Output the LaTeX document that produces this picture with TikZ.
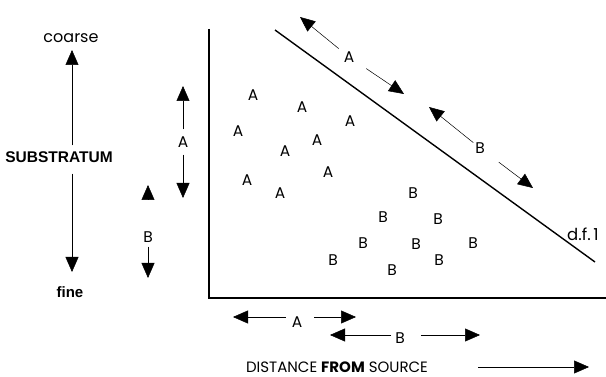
\documentclass[tikz,border=0pt]{standalone}
\usepackage{fontspec}
\setmainfont{Liberation Sans}
\newfontfamily\geofont{Poppins}
\usetikzlibrary{arrows.meta,positioning,calc}

\begin{document}
\begin{tikzpicture}[x=1pt,y=-1pt,
  lett/.style={font=\geofont\fontsize{15.5}{15.5}\selectfont,inner sep=1pt},
  boldlbl/.style={font=\bfseries\fontsize{15}{15}\selectfont,inner sep=1pt},
  arr/.style={-{Triangle[length=15pt,width=13pt]},line width=0.5pt,shorten <=4pt},
  axis/.style={line width=2pt}
]
  \useasboundingbox (0,0) rectangle (606,377);

  % Substratum scale (left)
  \node[font=\geofont\fontsize{16}{16}\selectfont,inner sep=1pt] (coarse) at (71,38) {coarse};
  \node[boldlbl,font=\bfseries\fontsize{15.5}{15.5}\selectfont] (sub) at (59,157) {SUBSTRATUM};
  \node[boldlbl] (fine) at (70,292) {fine};
  \coordinate (subup) at (72,50);
  \coordinate (subdn) at (72,272);
  \draw[arr,shorten <=5pt] (sub.north -| subup) -- (subup);
  \draw[arr,shorten <=10pt] (sub.south -| subdn) -- (subdn);

  % Vertical ranges A and B
  \node[lett] (vA) at (183,142) {A};
  \coordinate (vAup) at (183,86);
  \coordinate (vAdn) at (183,198);
  \draw[arr,shorten <=6pt] (vA) -- (vAup);
  \draw[arr,shorten <=6pt] (vA) -- (vAdn);
  \node[lett] (vB) at (148,237) {B};
  \coordinate (vBup) at (148,185);
  \coordinate (vBdn) at (148,278);
  \draw[arr,shorten <=35pt] (vB) -- (vBup);
  \draw[arr,shorten <=3pt] (vB) -- (vBdn);

  % Axes
  \coordinate (orig) at (209,298);
  \draw[axis] (209,29) -- (orig) -- (606,298);

  % d.f.1 boundary
  \coordinate (dfa) at (275,30);
  \coordinate (dfb) at (595,262);
  \draw[line width=1.4pt] (dfa) -- (dfb);
  \node[lett,font=\geofont\fontsize{16.5}{16.5}\selectfont] (df) at (583,234) {d.f.\,1};

  % Ranges along the boundary
  \node[lett] (dA) at (349,57) {A};
  \coordinate (dAup) at (300,17);
  \coordinate (dAdn) at (404,94);
  \draw[arr,shorten <=5pt] (dA) -- (dAup);
  \draw[arr,shorten <=13pt] (dA) -- (dAdn);
  \node[lett] (dB) at (480,148) {B};
  \coordinate (dBup) at (429,107);
  \coordinate (dBdn) at (533,188);
  \draw[arr,shorten <=1pt] (dB) -- (dBup);
  \draw[arr,shorten <=16pt] (dB) -- (dBdn);

  % Scatter of A
  \foreach \px/\py [count=\i] in {253/95,302/107,350/121,238/131,317/140,285/151,328/172,247/180,280/193}
    \node[lett] (a\i) at (\px,\py) {A};

  % Scatter of B
  \foreach \px/\py [count=\i] in {413/193,383/217,438/219,363/243,416/244,473/243,333/260,439/260,392/270}
    \node[lett] (b\i) at (\px,\py) {B};

  % Horizontal ranges A and B
  \node[lett] (hA) at (297,322) {A};
  \coordinate (hAl) at (233,317);
  \coordinate (hAr) at (356,317);
  \draw[arr,shorten <=5pt] (hA.west |- hAl) -- (hAl);
  \draw[arr,shorten <=11pt] (hA.east |- hAr) -- (hAr);
  \node[lett] (hB) at (400,338) {B};
  \coordinate (hBl) at (330,335);
  \coordinate (hBr) at (480,335);
  \draw[arr,shorten <=3pt] (hB.west |- hBl) -- (hBl);
  \draw[arr,shorten <=15pt] (hB.east |- hBr) -- (hBr);

  % Distance axis label
  \node[font=\geofont\fontsize{15}{15}\selectfont,inner sep=0pt] (dist) at (337,367)
    {DISTANCE \textbf{FROM} SOURCE};
  \coordinate (distr) at (589,367);
  \draw[arr,shorten <=50pt] (dist.east) -- (distr);
\end{tikzpicture}
\end{document}
